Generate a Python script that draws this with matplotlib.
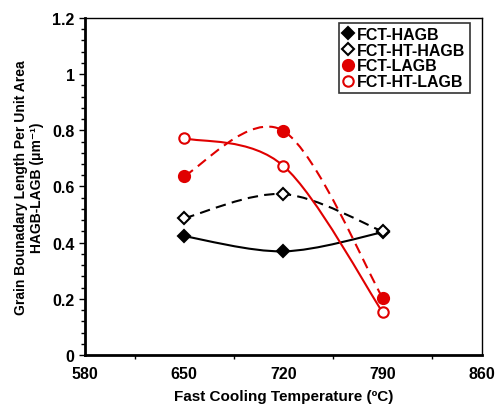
import numpy as np
import matplotlib
matplotlib.use('Agg')
import matplotlib.pyplot as plt
from matplotlib.path import Path
from matplotlib.patches import PathPatch
from matplotlib.ticker import MultipleLocator, FixedLocator, FuncFormatter

plt.rcParams['font.family'] = ['Liberation Sans', 'DejaVu Sans']
plt.rcParams['font.weight'] = 'bold'

# data
temps = [650, 720, 790]
fct_hagb = [0.423, 0.369, 0.437]
fct_ht_hagb = [0.487, 0.573, 0.440]
fct_lagb = [0.638, 0.798, 0.203]
fct_ht_lagb = [0.772, 0.673, 0.152]

x_ticks = [580, 650, 720, 790, 860]


def smooth_path(xs, ys):
    # Excel-style smoothed line (Catmull-Rom as cubic Bezier)
    pts = np.column_stack([xs, ys]).astype(float)
    n = len(pts)
    verts = [pts[0]]
    codes = [Path.MOVETO]
    for i in range(n - 1):
        p0 = pts[max(i - 1, 0)]
        p1 = pts[i]
        p2 = pts[i + 1]
        p3 = pts[min(i + 2, n - 1)]
        c1 = p1 + (p2 - p0) / 6.0
        c2 = p2 - (p3 - p1) / 6.0
        verts += [c1, c2, p2]
        codes += [Path.CURVE4] * 3
    return Path(verts, codes)


def y_fmt(v, pos):
    return ('%.1f' % v).rstrip('0').rstrip('.') if abs(v) > 1e-9 else '0'


fig = plt.figure(figsize=(4.98, 4.10), dpi=100)
ax = fig.add_axes([0.1707, 0.1317, 0.797, 0.822])

series = [
    ('FCT-HAGB', fct_hagb, 'black', '-', 'D', 'black', 6.0),
    ('FCT-HT-HAGB', fct_ht_hagb, 'black', (0, (5, 3)), 'D', 'white', 6.0),
    ('FCT-LAGB', fct_lagb, '#e00000', (0, (5, 3)), 'o', '#e00000', 8.0),
    ('FCT-HT-LAGB', fct_ht_lagb, '#e00000', '-', 'o', 'white', 7.5),
]

for label, vals, col, ls, mk, fc, ms in series:
    patch = PathPatch(smooth_path(temps, vals), facecolor='none', edgecolor=col,
                      lw=1.5, linestyle=ls, zorder=2)
    ax.add_patch(patch)
    ax.plot(temps, vals, ls='none', marker=mk, markersize=ms, markerfacecolor=fc,
            markeredgecolor=col, markeredgewidth=1.5, label=label, zorder=3)

ax.set_xlim(580, 860)
ax.set_ylim(0, 1.2)
ax.xaxis.set_major_locator(FixedLocator(x_ticks))
ax.xaxis.set_minor_locator(FixedLocator([615, 685, 755, 825]))
ax.yaxis.set_major_locator(MultipleLocator(0.2))
ax.yaxis.set_minor_locator(MultipleLocator(0.04))
ax.yaxis.set_major_formatter(FuncFormatter(y_fmt))

ax.tick_params(axis='x', which='major', length=0, pad=8, labelsize=11.5)
ax.tick_params(axis='x', which='minor', direction='out', length=3, width=1)
ax.tick_params(axis='y', which='major', direction='out', length=4, width=1, labelsize=11.5)
ax.tick_params(axis='y', which='minor', direction='out', length=3, width=1)
for lab in ax.get_xticklabels() + ax.get_yticklabels():
    lab.set_fontweight('bold')

ax.spines['left'].set_linewidth(2)
ax.spines['bottom'].set_linewidth(2)
ax.spines['top'].set_linewidth(1)
ax.spines['right'].set_linewidth(1)

ax.set_xlabel('Fast Cooling Temperature (ºC)', fontsize=11, fontweight='bold', labelpad=6)
ax.set_ylabel('Grain Bounadary Length Per Unit Area\nHAGB-LAGB (μm⁻¹)', fontsize=10,
              fontweight='bold', labelpad=6)

leg = ax.legend(loc='upper right', bbox_to_anchor=(0.977, 0.995), fontsize=11.5,
                frameon=True, fancybox=False, handlelength=0.6, handletextpad=0.3,
                borderpad=0.25, labelspacing=0.05, borderaxespad=0.2)
leg.get_frame().set_edgecolor('black')
leg.get_frame().set_linewidth(1.2)
for t in leg.get_texts():
    t.set_fontweight('bold')

fig.savefig('out.png', dpi=100)
